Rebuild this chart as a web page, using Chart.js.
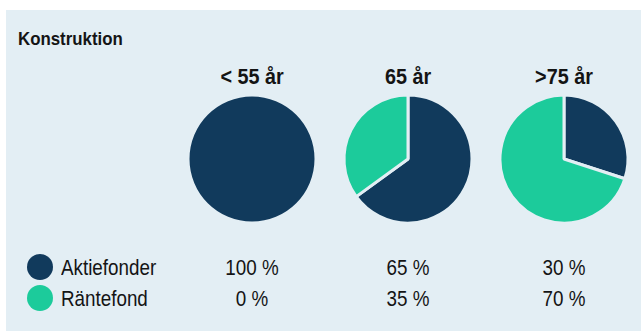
<!DOCTYPE html>
<html>
<head>
<meta charset="utf-8">
<script src="https://cdn.jsdelivr.net/npm/chart.js@4/dist/chart.umd.min.js"></script>
<style>
  body { margin: 0; background: #fff; width: 641px; height: 331px; overflow: hidden; position: relative; }
  #panel { position: absolute; left: 6px; top: 10px; width: 635px; height: 321px; background: #e3eef4; }
  /* smal skuren text: Liberation Sans ihoptryckt på bredden */
  .txt { position: absolute; font-family: "Liberation Sans", Arial, sans-serif; line-height: normal; color: #141414; white-space: nowrap; }
  .heading { font-weight: bold; font-size: 18.5px; left: 18px; top: 27.5px; transform: scaleX(0.91); transform-origin: left center; }
  .group { font-weight: bold; font-size: 21.5px; width: 120px; text-align: center; top: 64.8px; transform: scaleX(0.92); }
  .label { font-size: 22px; left: 61px; transform: scaleX(0.855); transform-origin: left center; }
  .value { font-size: 22px; width: 100px; text-align: center; transform: scaleX(0.855); }
  .dot { position: absolute; width: 26px; height: 26px; border-radius: 50%; left: 27px; }
  canvas { position: absolute; }
</style>
</head>
<body>
<div id="panel"></div>

<script>
// Fördelning per åldersgrupp
const groups = ['< 55 år', '65 år', '>75 år'];
const categories = ['Aktiefonder', 'Räntefond'];
const aktiefonder = [100, 65, 30];
const rantefond = [0, 35, 70];
const colors = ['#113a5c', '#1ccb9b'];

const centers = [252, 408, 564];
const pieTop = 159;
const rowBaselines = [275, 306];

function addText(cls, text, left, top) {
  const d = document.createElement('div');
  d.className = 'txt ' + cls;
  d.textContent = text;
  if (left !== null) d.style.left = left + 'px';
  if (top !== null) d.style.top = top + 'px';
  document.body.appendChild(d);
  return d;
}

addText('heading', 'Konstruktion', null, null);

groups.forEach((g, i) => {
  addText('group', g, centers[i] - 60, null);

  const canvas = document.createElement('canvas');
  canvas.width = 140;
  canvas.height = 140;
  canvas.style.left = (centers[i] - 70) + 'px';
  canvas.style.top = (pieTop - 70) + 'px';
  document.body.appendChild(canvas);

  const shares = [aktiefonder[i], rantefond[i]];
  const whole = shares.includes(0);

  new Chart(canvas, {
    type: 'pie',
    data: {
      labels: categories,
      datasets: [{
        data: shares,
        backgroundColor: colors,
        borderColor: '#e3eef4',
        borderWidth: whole ? 0 : 3
      }]
    },
    options: {
      responsive: false,
      animation: false,
      radius: whole ? 62.5 : 64,
      layout: { padding: 0 },
      plugins: {
        legend: { display: false },
        tooltip: { enabled: false }
      }
    }
  });
});

// förklaring med andelar per grupp
const rows = [aktiefonder, rantefond];
categories.forEach((c, r) => {
  const top = rowBaselines[r] - 0.905 * 22;
  const dot = document.createElement('div');
  dot.className = 'dot';
  dot.style.background = colors[r];
  dot.style.top = (rowBaselines[r] - 21.5) + 'px';
  document.body.appendChild(dot);

  addText('label', c, null, top);
  rows[r].forEach((v, i) => {
    addText('value', v + ' %', centers[i] - 50, top);
  });
});
</script>
</body>
</html>
